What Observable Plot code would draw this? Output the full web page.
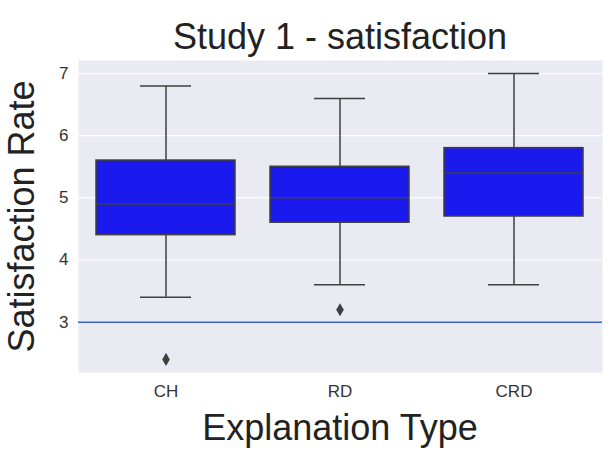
<!DOCTYPE html>
<html><head><meta charset="utf-8">
<script src="https://cdn.jsdelivr.net/npm/d3@7"></script>
<script src="https://cdn.jsdelivr.net/npm/@observablehq/plot@0.6"></script>
<style>
body{margin:0;background:#fff;font-family:Arial,"Liberation Sans",sans-serif;width:616px}
#title{height:58px;line-height:74px;font-size:36px;color:#222;padding-left:78px;width:524px;text-align:center}
#xlab{font-size:36px;color:#222;padding-left:78px;width:524px;text-align:center;line-height:40px}
</style></head>
<body>
<div id="title">Study 1 - satisfaction</div>
<div id="chart"></div>
<div id="xlab">Explanation Type</div>
<script>
const categories = ["CH", "RD", "CRD"];
const whiskerLow = [3.4, 3.6, 3.6];
const q1 = [4.4, 4.6, 4.7];
const median = [4.9, 5.0, 5.4];
const q3 = [5.6, 5.5, 5.8];
const whiskerHigh = [6.8, 6.6, 7.0];
const outlierCat = ["CH", "RD"];
const outlierVal = [2.4, 3.2];
const refLine = 3;
const yTicks = [3, 4, 5, 6, 7];

const boxes = categories.map((c, i) => ({cat: c, lo: whiskerLow[i], q1: q1[i], med: median[i], q3: q3[i], hi: whiskerHigh[i]}));
const outliers = outlierCat.map((c, i) => ({cat: c, v: outlierVal[i]}));
const edge = "#3f3f3f";

const chart = Plot.plot({
  width: 616,
  height: 350,
  marginTop: 2,
  marginBottom: 36,
  marginLeft: 78,
  marginRight: 14,
  style: {fontSize: "17px", fontFamily: "Arial, 'Liberation Sans', sans-serif", color: "#333"},
  x: {domain: categories, paddingInner: 0.2, paddingOuter: 0.1, label: null, tickSize: 0, tickPadding: 12},
  y: {domain: [2.19, 7.21], ticks: yTicks, tickFormat: "d", tickSize: 0, tickPadding: 10, label: "Satisfaction Rate", labelAnchor: "center", labelArrow: "none", labelOffset: 70},
  marks: [
    Plot.frame({fill: "#eaeaf2", stroke: null}),
    Plot.gridY(yTicks, {stroke: "white", strokeOpacity: 1, strokeWidth: 1.2}),
    Plot.ruleY([refLine], {stroke: "#3a5fc8", strokeWidth: 1.5}),
    Plot.ruleX(boxes, {x: "cat", y1: "lo", y2: "q1", stroke: edge, strokeWidth: 1.5}),
    Plot.ruleX(boxes, {x: "cat", y1: "q3", y2: "hi", stroke: edge, strokeWidth: 1.5}),
    Plot.tickY(boxes, {x: "cat", y: "lo", stroke: edge, strokeWidth: 1.5, inset: 44}),
    Plot.tickY(boxes, {x: "cat", y: "hi", stroke: edge, strokeWidth: 1.5, inset: 44}),
    Plot.barY(boxes, {x: "cat", y1: "q1", y2: "q3", fill: "#1a1aee", stroke: edge, strokeWidth: 1.5}),
    Plot.tickY(boxes, {x: "cat", y: "med", stroke: edge, strokeWidth: 1.5}),
    Plot.dot(outliers, {x: "cat", y: "v", symbol: "diamond", r: 4, fill: edge, stroke: null})
  ]
});
d3.select(chart).selectAll('[aria-label="y-axis tick label"], [aria-label="x-axis tick label"]').style("font-size", "17px").attr("fill", "#333");
d3.select(chart).selectAll('[aria-label="y-axis label"]').style("font-size", "36px").attr("fill", "#222");
document.getElementById("chart").append(chart);
</script>
</body></html>
